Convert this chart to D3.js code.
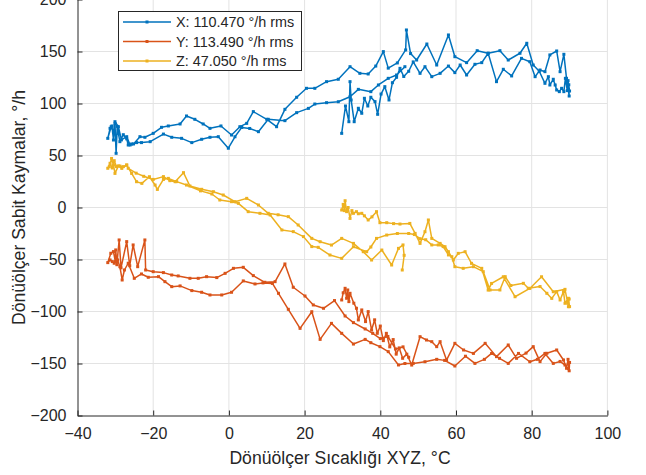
<!DOCTYPE html>
<html>
<head>
<meta charset="utf-8">
<script src="https://cdn.jsdelivr.net/npm/d3@7"></script>
<style>
  html, body { margin: 0; padding: 0; background: #fff; }
  svg { display: block; font-family: "Liberation Sans", Arial, Helvetica, sans-serif; }
</style>
</head>
<body>
<svg id="chart" width="646" height="475"></svg>
<script>
// Gyro bias (°/h) versus gyro temperature (°C) for the three axes.
// Each series is a single temperature run: warm-up at ~30 °C, heat to 90 °C,
// cool down to -32 °C, then heat back up.
const seriesX = [
  [29.8,71.3],[30.8,97.6],[31.7,82.5],[32.0,121.0],[32.3,103.4],[33.1,82.5],[34.2,95.4],[35.1,90.6],
  [35.8,105.0],[36.7,97.6],[37.5,106.0],[38.6,101.8],[39.3,89.6],[40.2,109.1],[41.2,116.2],[42.3,103.4],
  [43.2,120.0],[44.3,125.2],[45.2,133.8],[46.2,126.0],[47.5,131.0],[48.7,140.0],[50.5,129.0],[51.8,135.4],
  [53.6,125.8],[55.8,129.0],[58.0,136.0],[59.7,129.7],[61.1,137.0],[62.8,127.4],[65.0,137.7],[66.8,139.3],
  [68.5,148.3],[70.7,121.0],[72.5,132.9],[74.7,126.5],[77.3,143.4],[79.5,140.2],[80.9,125.8],[82.2,132.2],
  [83.5,130.6],[84.8,146.7],[86.6,150.5],[87.5,130.6],[88.5,147.3],[89.2,124.2],[89.9,107.2],[89.8,118.0],
  [90.0,112.0],[89.6,122.0],
  [89.4,112.4],[88.9,124.2],[88.5,111.4],[87.9,114.6],[87.3,111.4],[86.6,113.0],[86.2,117.8],[85.7,123.3],
  [84.8,117.8],[84.4,125.8],[83.5,119.4],[82.0,131.0],[80.4,137.0],[78.7,157.9],[76.9,148.3],[73.8,141.8],
  [71.6,150.8],[68.5,148.3],[65.6,150.8],[62.8,139.3],[59.7,145.0],[58.0,165.9],[54.9,137.0],[52.3,157.2],
  [49.6,141.8],[48.0,148.0],[46.9,170.7],[46.7,151.5],[44.5,139.0],[42.1,134.0],[40.8,149.9],[38.8,136.0],
  [36.8,128.4],[34.6,129.0],[32.0,135.4],[28.9,123.3],[25.8,121.0],[22.7,114.6],[20.5,114.6],[17.9,106.0],
  [14.8,94.4],[12.6,77.7],[10.0,84.8],[6.45,92.2],[4.7,80.9],[2.9,77.7],[0.7,69.7],[-2.1,78.4],
  [-5.0,76.1],[-6.8,80.3],[-9.0,84.8],[-11.2,88.0],[-12.9,80.3],[-16.0,78.4],[-17.8,77.1],[-20.0,71.3],
  [-22.2,67.5],[-23.5,68.1],[-25.2,61.1],[-26.1,60.1],[-27.0,68.1],[-28.4,65.0],[-29.2,77.7],[-30.1,82.5],
  [-30.5,72.9],[-31.1,77.7],[-32.0,66.5],
  [-31.4,76.1],[-30.9,78.4],[-30.5,64.9],[-30.1,80.5],[-29.8,52.1],[-29.5,78.0],[-29.2,71.3],[-28.8,63.3],
  [-27.9,70.0],[-27.0,66.0],[-26.6,60.1],[-25.7,61.1],[-24.4,62.4],[-23.1,62.4],[-20.8,63.3],[-17.3,70.6],
  [-15.1,67.5],[-12.5,66.5],[-9.8,62.4],[-7.2,65.6],[-5.0,67.5],[-2.8,68.1],[-0.15,57.0],[1.6,68.0],
  [3.4,77.0],[5.5,76.0],[7.8,72.9],[10.4,84.8],[14.8,83.5],[17.9,91.2],[21.0,95.3],[22.7,99.5],
  [25.8,100.8],[28.9,101.7],[32.0,106.5],[34.2,113.6],[37.5,111.4],[39.5,117.8],[42.1,124.2],[44.3,127.4],
  [46.5,135.4]
];

const seriesY = [
  [29.8,-88.9],[30.2,-82.0],[30.7,-77.7],[31.1,-87.3],[31.4,-79.3],[31.7,-90.5],[32.0,-82.5],[33.0,-92.0],
  [33.7,-96.9],[34.2,-108.1],[35.1,-98.5],[36.1,-109.7],[36.8,-100.1],[37.7,-117.8],[38.5,-108.0],[39.2,-121.0],
  [40.0,-114.0],[40.8,-128.0],[41.6,-121.0],[42.5,-134.0],[43.4,-127.0],[44.2,-141.0],[45.0,-135.0],[45.9,-145.0],
  [47.0,-141.0],[48.3,-151.5],[50.5,-124.2],[52.2,-127.4],[53.6,-129.0],[54.9,-133.8],[55.8,-129.0],[57.5,-146.7],
  [59.7,-130.6],[62.0,-137.0],[64.6,-140.3],[67.7,-130.6],[70.7,-143.4],[73.8,-132.2],[76.0,-145.0],[78.5,-140.0],
  [80.4,-133.8],[82.2,-148.2],[84.0,-140.2],[86.6,-137.0],[88.4,-146.6],[89.2,-154.6],[89.6,-146.0],[89.9,-157.0],
  [90.0,-149.0],[89.7,-155.0],
  [88.8,-151.5],[87.5,-148.0],[85.7,-149.9],[83.5,-140.3],[81.5,-146.0],[79.5,-148.3],[76.5,-140.3],[73.8,-149.9],
  [71.5,-145.0],[69.4,-140.3],[67.5,-146.0],[65.0,-149.9],[62.5,-143.0],[59.7,-152.4],[57.0,-147.0],[54.9,-146.0],
  [51.8,-148.3],[48.7,-149.9],[46.5,-150.0],[44.8,-151.4],[42.1,-138.6],[39.9,-133.8],[37.5,-130.0],[36.0,-126.8],
  [32.9,-131.3],[29.8,-121.0],[27.1,-111.4],[24.1,-126.8],[21.9,-100.2],[18.8,-116.2],[15.7,-97.9],[13.1,-82.5],
  [11.5,-73.0],[9.0,-72.5],[6.9,-73.5],[3.8,-70.6],[0.7,-81.5],[-1.9,-84.1],[-5.0,-84.1],[-7.2,-81.5],
  [-9.8,-79.9],[-12.9,-75.4],[-15.1,-76.1],[-16.9,-71.3],[-18.6,-66.5],[-21.3,-67.1],[-23.1,-63.9],[-25.0,-68.1],
  [-26.6,-53.6],[-27.6,-60.1],[-28.2,-69.7],[-28.8,-56.9],[-29.4,-50.4],[-30.3,-53.6],[-30.8,-52.0],[-31.4,-50.4],
  [-32.0,-53.0],
  [-31.2,-44.0],[-30.5,-42.4],[-30.0,-52.0],[-29.9,-40.8],[-29.6,-55.0],[-29.0,-31.2],[-28.5,-58.0],[-27.0,-32.8],
  [-26.2,-56.0],[-25.3,-36.0],[-24.1,-56.9],[-22.2,-31.2],[-22.0,-60.1],[-20.0,-61.7],[-17.3,-62.6],[-15.1,-64.9],
  [-13.4,-65.8],[-10.3,-68.1],[-8.1,-68.1],[-5.9,-66.5],[-3.2,-67.4],[-1.0,-63.3],[1.2,-58.5],[3.8,-57.5],
  [6.45,-65.5],[9.5,-71.9],[12.2,-71.3],[14.8,-54.3],[17.0,-76.7],[20.1,-85.1],[22.3,-93.7],[25.0,-96.9],
  [27.9,-89.5],[30.7,-104.3],[32.9,-110.7],[36.0,-116.8],[38.0,-121.0],[40.0,-126.0],[42.0,-124.0],[44.0,-136.0],
  [46.0,-134.0],[47.5,-144.0]
];

const seriesZ = [
  [29.8,-2.4],[30.2,3.0],[30.5,-3.0],[30.7,6.5],[31.1,-4.0],[31.5,0.0],[32.0,-10.5],[32.5,-3.0],
  [32.9,-5.6],[33.7,-4.0],[34.2,-6.0],[35.1,-5.6],[35.8,-8.0],[36.8,-12.0],[37.8,-9.0],[39.0,-4.0],
  [39.9,-14.6],[41.7,-14.6],[43.5,-15.5],[45.2,-15.9],[47.8,-15.3],[49.2,-24.9],[50.5,-34.5],[51.8,-23.3],
  [52.7,-12.0],[53.6,-29.7],[55.8,-34.5],[57.1,-37.7],[58.0,-42.5],[59.3,-50.5],[60.6,-44.1],[62.4,-42.5],
  [64.1,-53.7],[66.8,-58.5],[68.5,-79.4],[69.4,-73.0],[72.5,-66.6],[75.6,-85.8],[79.5,-77.8],[82.6,-66.6],
  [85.7,-81.0],[88.8,-78.7],[89.7,-95.4],[89.9,-88.0],[89.5,-92.0],[90.0,-95.3],
  [89.7,-87.3],[88.8,-92.1],[88.4,-80.9],[87.5,-88.9],[86.6,-80.9],[85.3,-87.4],[84.0,-82.5],[82.2,-76.0],
  [79.1,-77.7],[77.8,-72.9],[74.5,-75.0],[73.0,-66.5],[71.6,-79.3],[69.0,-79.3],[67.2,-61.7],[64.6,-56.9],
  [61.9,-58.5],[59.7,-56.9],[58.9,-47.3],[58.0,-45.6],[56.6,-37.6],[55.3,-36.0],[53.6,-36.0],[52.0,-31.0],
  [50.5,-30.0],[49.0,-26.0],[47.5,-25.0],[44.5,-25.0],[41.7,-26.5],[39.0,-29.7],[37.5,-38.0],[36.4,-42.5],
  [32.9,-37.7],[29.8,-48.9],[26.7,-45.7],[23.6,-38.3],[21.9,-37.6],[19.7,-28.0],[17.0,-23.2],[14.0,-21.6],
  [10.9,-7.2],[8.2,-5.6],[5.1,-4.0],[2.5,4.0],[0.7,5.6],[-2.4,7.2],[-4.5,13.0],[-7.5,16.0],
  [-11.2,21.6],[-13.8,24.9],[-16.0,28.0],[-17.3,27.0],[-18.9,17.4],[-19.5,21.6],[-21.0,29.6],[-23.0,23.2],
  [-24.4,24.8],[-25.7,32.8],[-27.0,40.8],[-28.3,37.6],[-29.2,40.0],[-30.1,32.8],[-30.5,40.9],[-31.0,47.2],
  [-31.6,39.2],[-32.0,37.7],
  [-31.4,42.5],[-30.8,38.0],[-30.3,45.0],[-29.7,39.3],[-28.8,39.9],[-27.9,39.3],[-27.0,40.9],[-26.6,37.7],
  [-24.5,33.0],[-22.5,30.0],[-20.0,27.0],[-17.3,29.7],[-15.6,25.8],[-14.2,24.8],[-12.0,33.5],[-10.3,20.7],
  [-7.2,17.5],[-4.1,15.2],[-1.5,12.0],[1.6,5.6],[4.7,8.8],[7.8,2.4],[10.4,-5.6],[13.0,-7.0],
  [15.7,-8.8],[18.3,-16.8],[21.9,-29.7],[24.1,-32.9],[27.1,-36.1],[29.8,-29.7],[32.9,-34.5],[35.5,-42.5],
  [37.7,-50.5],[40.4,-40.9],[43.0,-55.3],[44.8,-39.3],[46.0,-36.0],[46.3,-46.0],[45.8,-60.1]
];

const seriesNames = ["X: 110.470 °/h rms", "Y: 113.490 °/h rms", "Z: 47.050 °/h rms"];
const seriesColors = ["#0072BD", "#D95319", "#EDB120"];
const xTicks = [-40, -20, 0, 20, 40, 60, 80, 100];
const yTicks = [-200, -150, -100, -50, 0, 50, 100, 150, 200];
const xLabel = "Dönüölçer Sıcaklığı XYZ, °C";
const yLabel = "Dönüölçer Sabit Kaymalar, °/h";

const svg = d3.select("#chart");
const axisColor = "#262626";
const gridColor = "#e3e3e3";
const tickFont = 16;

const x = d3.scaleLinear().domain([-40, 100]).range([77.5, 607.4]);
const y = d3.scaleLinear().domain([-200, 200]).range([415.5, -0.5]);

svg.append("rect").attr("width", 646).attr("height", 475).attr("fill", "#fff");

// grid
const grid = svg.append("g");
grid.selectAll("line.gx").data(xTicks.slice(1)).join("line")
  .attr("x1", d => x(d)).attr("x2", d => x(d))
  .attr("y1", y(-200)).attr("y2", y(200))
  .attr("stroke", gridColor).attr("stroke-width", 1);
grid.selectAll("line.gy").data(yTicks.slice(1)).join("line")
  .attr("x1", x(-40)).attr("x2", x(100))
  .attr("y1", d => y(d)).attr("y2", d => y(d))
  .attr("stroke", gridColor).attr("stroke-width", 1);

// axes with inward ticks
const xAxis = d3.axisBottom(x).tickValues(xTicks).tickSizeInner(-5).tickSizeOuter(0).tickPadding(12);
const yAxis = d3.axisLeft(y).tickValues(yTicks).tickSizeInner(-5).tickSizeOuter(0).tickPadding(11);

const gx = svg.append("g").attr("transform", `translate(0,${y(-200)})`).call(xAxis);
const gy = svg.append("g").attr("transform", `translate(${x(-40)},0)`).call(yAxis);
[gx, gy].forEach(g => {
  g.select(".domain").attr("stroke", axisColor).attr("stroke-width", 1);
  g.selectAll(".tick line").attr("stroke", axisColor);
  g.selectAll(".tick text").attr("fill", axisColor)
    .attr("font-family", "Liberation Sans, Arial, sans-serif").attr("font-size", tickFont);
});

// series
const line = d3.line().x(d => x(d[0])).y(d => y(d[1]));
const allSeries = [seriesX, seriesY, seriesZ];
allSeries.forEach((s, i) => {
  const g = svg.append("g");
  g.append("path").datum(s).attr("d", line)
    .attr("fill", "none").attr("stroke", seriesColors[i])
    .attr("stroke-width", 1.5).attr("stroke-linejoin", "round");
  g.selectAll("rect").data(s).join("rect")
    .attr("x", d => x(d[0]) - 1.5).attr("y", d => y(d[1]) - 1.5)
    .attr("width", 3).attr("height", 3).attr("fill", seriesColors[i]);
});

// axis labels
svg.append("text").attr("x", 340).attr("y", 464).attr("text-anchor", "middle")
  .attr("font-size", tickFont * 1.1).attr("fill", axisColor).text(xLabel);
svg.append("text").attr("transform", `translate(25,${y(0)}) rotate(-90)`)
  .attr("text-anchor", "middle").attr("font-size", tickFont * 1.1).attr("fill", axisColor).text(yLabel);

// legend
const lg = svg.append("g");
lg.append("rect").attr("x", 118.5).attr("y", 11.5).attr("width", 183).attr("height", 59)
  .attr("fill", "#fff").attr("stroke", axisColor).attr("stroke-width", 1);
seriesNames.forEach((name, i) => {
  const ly = 22 + i * 19.5;
  lg.append("line").attr("x1", 123).attr("x2", 171).attr("y1", ly).attr("y2", ly)
    .attr("stroke", seriesColors[i]).attr("stroke-width", 1.5);
  lg.append("rect").attr("x", 145.5).attr("y", ly - 1.5).attr("width", 3).attr("height", 3)
    .attr("fill", seriesColors[i]);
  lg.append("text").attr("x", 176).attr("y", ly + 5).attr("font-size", tickFont * 0.9)
    .attr("fill", axisColor).text(name);
});
</script>
</body>
</html>
